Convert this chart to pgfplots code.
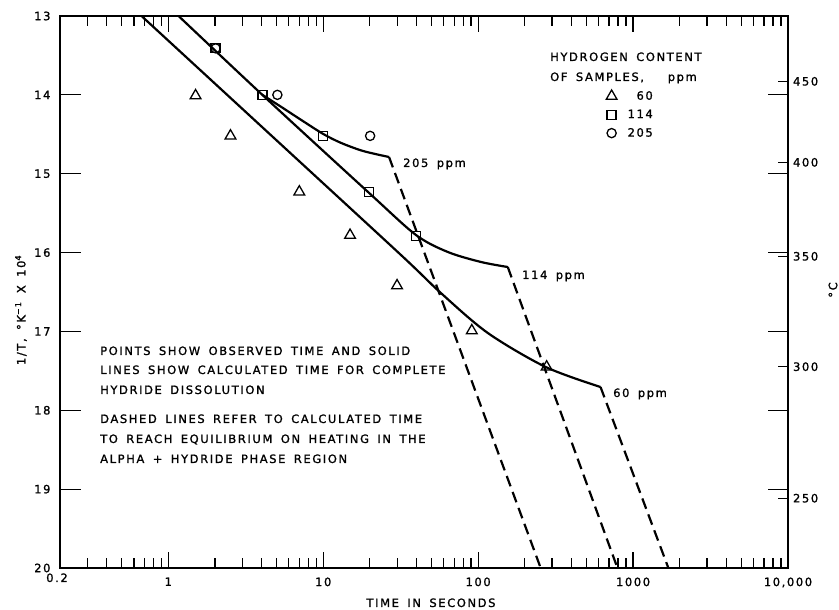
\documentclass[border=0pt]{standalone}
\usepackage{pgfplots}
\pgfplotsset{compat=1.18}
\usepackage{fontspec}
\setmainfont{DejaVu Sans}[LetterSpace=14, WordSpace=1.6, FakeBold=1.2]
\newcommand\fs{\fontsize{11.5}{13}\selectfont}
\begin{document}
\begin{tikzpicture}[x=1pt,y=1pt]
\begin{axis}[
  at={(60pt,42pt)}, anchor=south west, scale only axis,
  width=728pt, height=552pt,
  xmode=log, log basis x=10, xmin=0.2, xmax=10000,
  ymin=13, ymax=20, y dir=reverse,
  xtick={0.2,1,10,100,1000,10000},
  xticklabels={{},1,10,100,1000,{10,000}},
  minor xtick={0.3,0.4,0.5,0.6,0.7,0.8,0.9,2,3,4,5,6,7,8,9,20,30,40,50,60,70,80,90,200,300,400,500,600,700,800,900,2000,3000,4000,5000,6000,7000,8000,9000},
  ytick={13,14,15,16,17,18,19,20},
  yticklabels={13,14,15,16,17,18,19,20},
  ytick pos=left,
  tick align=inside,
  xtick style={line width=1.2pt, black, /pgfplots/major tick length=16pt, /pgfplots/minor tick length=10pt},
  ytick style={line width=1.2pt, black, /pgfplots/major tick length=21pt},
  axis line style={line width=1.4pt},
  ticklabel style={font=\fs},
  xticklabel style={yshift=-6pt},
  yticklabel style={xshift=-6pt},
  legend style={at={(axis description cs:0.8173,0.8678)}, anchor=north east,
    draw=none, fill=none, font=\fs, row sep=4.5pt, inner sep=0pt},
  legend cell align=right,
  legend image code/.code={\draw[#1] plot coordinates {(0pt,0pt)}; \path[draw=none] (0pt,0pt) -- (14pt,0pt);},
]
% 60 ppm solid
\addplot[forget plot, line width=2.2pt, smooth, tension=0.5] coordinates {
  (0.672,13.0) (4.62,14.515) (31.77,16.031) (57.5,16.513) (115.5,17.02) (272.9,17.451) (616.6,17.705)};
\addplot[forget plot, line width=2.2pt, dash pattern=on 11pt off 6pt] coordinates {(616.6,17.705) (1690,20)};
% 114 ppm solid
\addplot[forget plot, line width=2.2pt, smooth, tension=0.5] coordinates {
  (1.165,13.0) (4.048,14.0) (19.78,15.244) (39.7,15.777) (63.8,15.993) (104.1,16.119) (155.3,16.183)};
\addplot[forget plot, line width=2.2pt, dash pattern=on 11pt off 6pt] coordinates {(155.3,16.183) (793,20)};
% 205 ppm solid
\addplot[forget plot, line width=2.2pt, smooth, tension=0.5] coordinates {
  (4.05,14.0) (5.37,14.154) (7.22,14.319) (10,14.496) (13.06,14.61) (18.1,14.712) (26.6,14.788)};
\addplot[forget plot, line width=2.2pt, dash pattern=on 11pt off 6pt] coordinates {(26.6,14.788) (253.3,20)};
% observed points
\addplot[only marks, mark=triangle, mark size=6.2pt, mark options={line width=1.3pt, fill=white}] coordinates {
  (1.50,14.01) (2.52,14.52) (7.01,15.23) (14.9,15.78) (29.96,16.42) (91,16.99) (276.7,17.45)};
\addlegendentry{60}
\addplot[only marks, mark=square, mark size=4.5pt, mark options={line width=1.3pt, fill=white}] coordinates {
  (2.02,13.41) (4.05,14.0) (10,14.52) (19.8,15.23) (39.7,15.79)};
\addlegendentry{114}
\addplot[only marks, mark=o, mark size=4.6pt, mark options={line width=1.3pt}] coordinates {
  (2.02,13.41) (5.06,14.0) (20.08,14.52)};
\addlegendentry{205}
\end{axis}
\begin{axis}[
  at={(60pt,42pt)}, anchor=south west, scale only axis,
  width=728pt, height=552pt,
  xmode=log, xmin=0.2, xmax=10000,
  ymin=13, ymax=20, y dir=reverse,
  axis x line=none, axis y line*=right,
  y axis line style={line width=1.4pt, -},
  ytick={13.8284,14.8555,16.0475,17.4474,19.1150},
  yticklabels={450,400,350,300,250},
  minor ytick={14,15,16,17,18,19},
  tick align=inside,
  major tick length=10pt, minor tick length=20pt,
  tick style={line width=1.2pt, black},
  ticklabel style={font=\fs},
  yticklabel style={xshift=1.5pt},
]
\end{axis}
% texts
\node[anchor=base, font=\fs] at (57,28) {0.2};
\node[anchor=base, font=\fs] at (431,3) {TIME IN SECONDS};
\node[rotate=90, font=\fs] at (21,300) {1/T, °K\textsuperscript{−1} X 10\textsuperscript{4}};
\node[rotate=90, font=\fs] at (833,320) {°C};
\node[anchor=base west, font=\fs, inner sep=0pt] at (550,549) {HYDROGEN CONTENT};
\node[anchor=base west, font=\fs, inner sep=0pt] at (550,529) {OF SAMPLES,};
\node[anchor=base east, font=\fs, inner sep=0pt] at (697,529) {ppm};
\node[anchor=base west, font=\fs, inner sep=0pt] at (403,443) {205 ppm};
\node[anchor=base west, font=\fs, inner sep=0pt] at (522,331) {114 ppm};
\node[anchor=base west, font=\fs, inner sep=0pt] at (613,213) {60 ppm};
\node[anchor=base west, font=\fs, inner sep=0pt] at (100,255) {POINTS SHOW OBSERVED TIME AND SOLID};
\node[anchor=base west, font=\fs, inner sep=0pt] at (100,236) {LINES SHOW CALCULATED TIME FOR COMPLETE};
\node[anchor=base west, font=\fs, inner sep=0pt] at (100,216) {HYDRIDE DISSOLUTION};
\node[anchor=base west, font=\fs, inner sep=0pt] at (100,187) {DASHED LINES REFER TO CALCULATED TIME};
\node[anchor=base west, font=\fs, inner sep=0pt] at (100,167) {TO REACH EQUILIBRIUM ON HEATING IN THE};
\node[anchor=base west, font=\fs, inner sep=0pt] at (100,147) {ALPHA + HYDRIDE PHASE REGION};
\pgfresetboundingbox
\path[use as bounding box] (0,0) rectangle (839,610);
\end{tikzpicture}
\end{document}
